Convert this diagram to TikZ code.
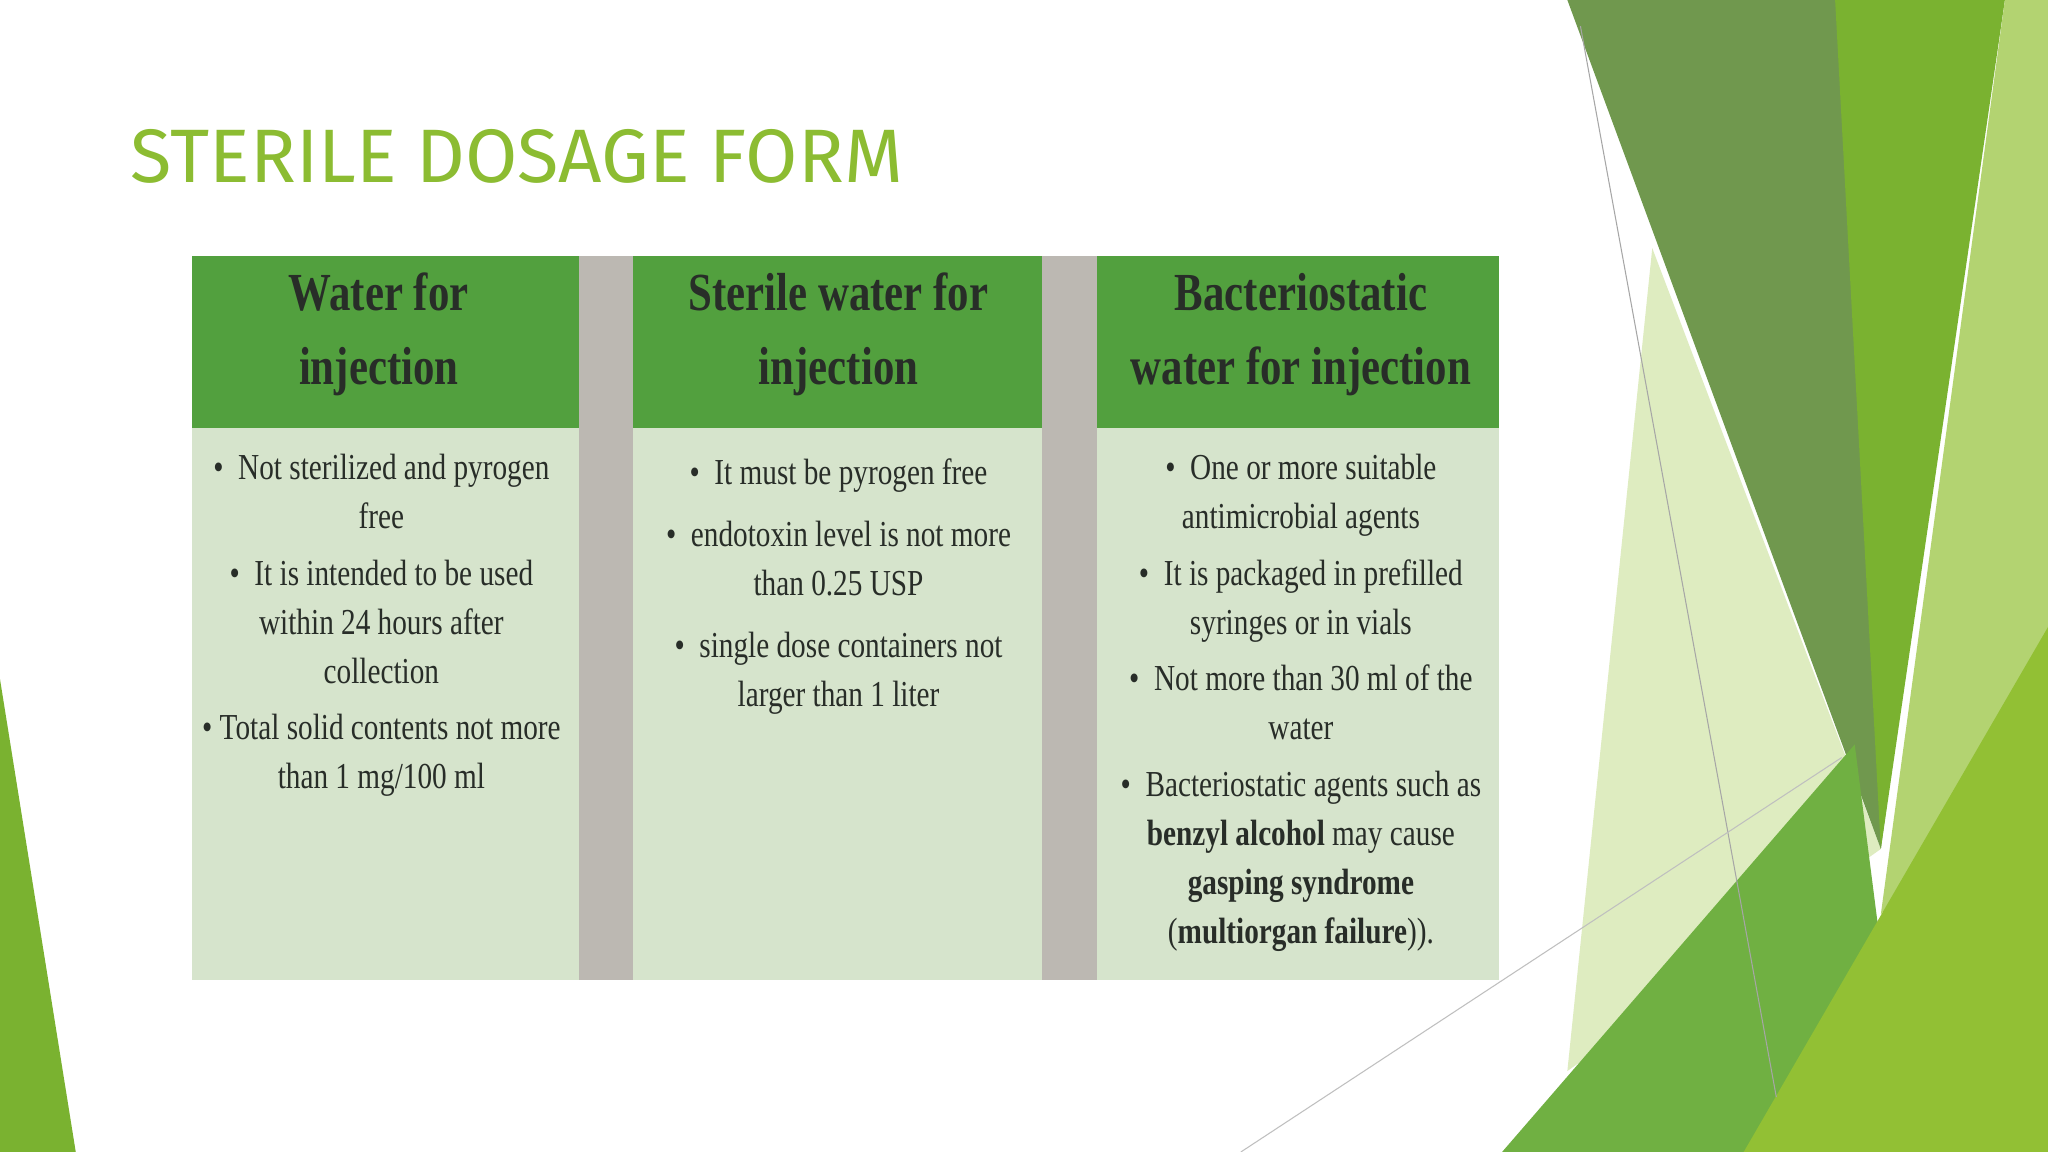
\documentclass[tikz,border=0pt]{standalone}
\usepackage{fontspec}
\setmainfont{Liberation Serif}
\newfontfamily\titlefont{Fira Sans}
\newfontfamily\tbl[FakeStretch=0.8]{Liberation Serif}
\definecolor{ttl}{RGB}{140,188,50}
\definecolor{hdr}{RGB}{82,160,62}
\definecolor{bdy}{RGB}{214,228,204}
\definecolor{sep}{RGB}{188,184,178}
\definecolor{olive}{RGB}{112,152,78}
\definecolor{gA}{RGB}{122,178,48}
\definecolor{gB}{RGB}{146,192,52}
\definecolor{pale}{RGB}{222,236,192}
\definecolor{gC}{RGB}{112,176,66}
\definecolor{txt}{RGB}{40,45,40}
\tikzset{
 hd/.style={text=txt,font=\tbl\bfseries\fontsize{41}{57}\selectfont,align=center,anchor=center},
 bd/.style={text=txt,font=\tbl\fontsize{28}{37.5}\selectfont,align=center,anchor=north},
}
\begin{document}
\begin{tikzpicture}[x=1pt,y=-1pt]
\useasboundingbox (0,0) rectangle (1568,882);
\fill[white] (0,0) rectangle (1568,882);
% decorations
\fill[pale] (1265,190) -- (1440,650) -- (1200,820) -- cycle;
\fill[olive] (1200,0) -- (1415,0) -- (1470,420) -- (1440,650) -- cycle;
\fill[gA] (1405,0) -- (1535,0) -- (1440,650) -- cycle;
\fill[gB!70!white] (1535,0) -- (1568,0) -- (1568,560) -- (1440,700) -- cycle;
\fill[gC] (1150,882) -- (1420,570) -- (1460,882) -- cycle;
\fill[gB] (1335,882) -- (1568,480) -- (1568,882) -- cycle;
\fill[gA] (0,520) -- (58,882) -- (0,882) -- cycle;
\coordinate (l1a) at (1210,20); \coordinate (l1b) at (1360,840);
\coordinate (l2a) at (950,882); \coordinate (l2b) at (1410,580);
\draw[gray!70,line width=0.8pt] (l1a) -- (l1b);
\draw[gray!50,line width=0.8pt] (l2a) -- (l2b);
% title
\node[anchor=base west,text=ttl,font=\titlefont\fontsize{58}{60}\selectfont,inner sep=0] (title) at (100,140) {STERILE DOSAGE FORM};
% table
\fill[sep] (443,196) rectangle (485,750);
\fill[sep] (798,196) rectangle (840,750);
\fill[bdy] (147,328) rectangle (443,750);
\fill[bdy] (485,328) rectangle (798,750);
\fill[bdy] (840,328) rectangle (1148,750);
\fill[hdr] (147,196) rectangle (443,328);
\fill[hdr] (485,196) rectangle (798,328);
\fill[hdr] (840,196) rectangle (1148,328);
\node[hd] (h1) at (290,256) {Water for\\injection};
\node[hd] (h2) at (642,256) {Sterile water for\\injection};
\node[hd] (h3) at (996,256) {Bacteriostatic\\water for injection};
\node[bd] (b1) at (292,344) {\textbullet\ \ Not sterilized and pyrogen\\free\\[6pt]
\textbullet\ \ It is intended to be used\\within 24 hours after\\collection\\[6pt]
\textbullet\ Total solid contents not more\\than 1 mg/100 ml};
\node[bd] (b2) at (642,348) {\textbullet\ \ It must be pyrogen free\\[10pt]
\textbullet\ \ endotoxin level is not more\\than 0.25 USP\\[10pt]
\textbullet\ \ single dose containers not\\larger than 1 liter};
\node[bd] (b3) at (996,344) {\textbullet\ \ One or more suitable\\antimicrobial agents\\[6pt]
\textbullet\ \ It is packaged in prefilled\\syringes or in vials\\[6pt]
\textbullet\ \ Not more than 30 ml of the\\water\\[6pt]
\textbullet\ \ Bacteriostatic agents such as\\\textbf{benzyl alcohol} may cause\\\textbf{gasping syndrome}\\(\textbf{multiorgan failure})).};
\end{tikzpicture}
\end{document}
